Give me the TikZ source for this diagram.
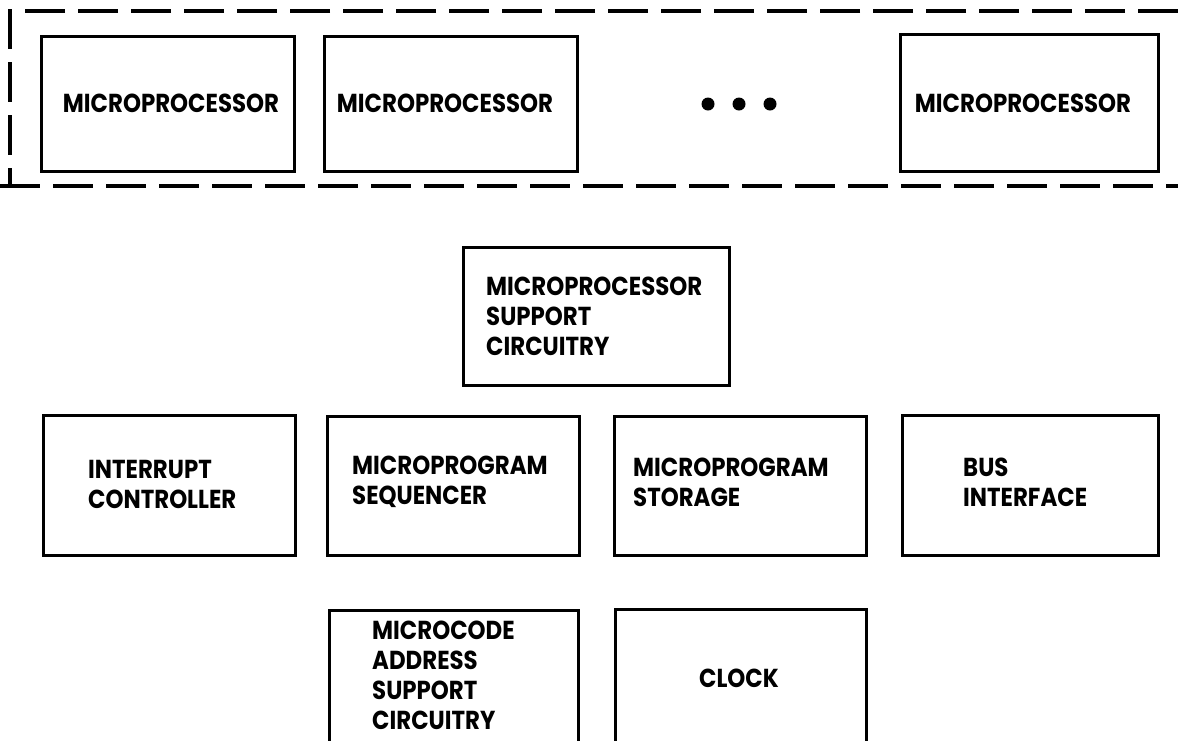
\documentclass[tikz,border=0pt]{standalone}
\usepackage{fontspec}
\newfontfamily\dfont{Poppins}[FakeStretch=0.88]
\begin{document}
\begin{tikzpicture}[x=1pt,y=-1pt,
  box/.style={draw, line width=3pt, inner sep=0pt},
  lbl/.style={font=\dfont\bfseries\fontsize{26}{30}\selectfont, align=left, inner sep=0pt, anchor=west},
  clbl/.style={font=\dfont\bfseries\fontsize{26}{30}\selectfont, inner sep=0pt},
  dashline/.style={line width=4pt, dash pattern=on 40pt off 13pt},
  dot/.style={circle, fill, inner sep=0pt, minimum size=13pt}]
\clip (0,0) rectangle (1178,740);
\fill[white] (0,0) rectangle (1178,740);
% dashed enclosure
\coordinate (tr) at (1178,11);
\coordinate (tl) at (10,11);
\coordinate (bl) at (10,186);
\coordinate (bl0) at (0,186);
\coordinate (br) at (1178,186);
\draw[dashline] (tr) -- (tl) -- (bl);
\draw[dashline] (bl0) -- (br);
% microprocessors
\node[box, minimum width=253pt, minimum height=135pt] (mp1) at (167.5,103.5) {};
\node[box, minimum width=253pt, minimum height=135pt] (mp2) at (450.5,103.5) {};
\node[box, minimum width=258pt, minimum height=137pt] (mp3) at (1029,102.5) {};
\node[clbl] (mp1t) at (171,103) {MICROPROCESSOR};
\node[clbl] (mp2t) at (445,103) {MICROPROCESSOR};
\node[clbl] (mp3t) at (1023,103) {MICROPROCESSOR};
\node[dot] (d1) at (708,104) {};
\node[dot] (d2) at (739,104) {};
\node[dot] (d3) at (770,104) {};
% support circuitry
\node[box, minimum width=266pt, minimum height=138pt] (msc) at (596,316) {};
\node[lbl] (msct) at (486,316) {MICROPROCESSOR\\SUPPORT\\CIRCUITRY};
% row 2
\node[box, minimum width=252pt, minimum height=140pt] (int) at (169,485) {};
\node[lbl] (intt) at (88,484) {INTERRUPT\\CONTROLLER};
\node[box, minimum width=252pt, minimum height=139pt] (seq) at (453,485.5) {};
\node[lbl] (seqt) at (352,482) {MICROPROGRAM\\SEQUENCER};
\node[box, minimum width=252pt, minimum height=139pt] (sto) at (740,485.5) {};
\node[lbl] (stot) at (633,482) {MICROPROGRAM\\STORAGE};
\node[box, minimum width=256pt, minimum height=140pt] (bus) at (1030,485) {};
\node[lbl] (bust) at (963,482) {BUS\\INTERFACE};
% row 3
\node[box, minimum width=249pt, minimum height=150pt] (mca) at (453.5,685) {};
\node[lbl] (mcat) at (372,675) {MICROCODE\\ADDRESS\\SUPPORT\\CIRCUITRY};
\node[box, minimum width=251pt, minimum height=152pt] (clk) at (740.5,685) {};
\node[clbl] (clkt) at (739,678) {CLOCK};
\end{tikzpicture}
\end{document}
